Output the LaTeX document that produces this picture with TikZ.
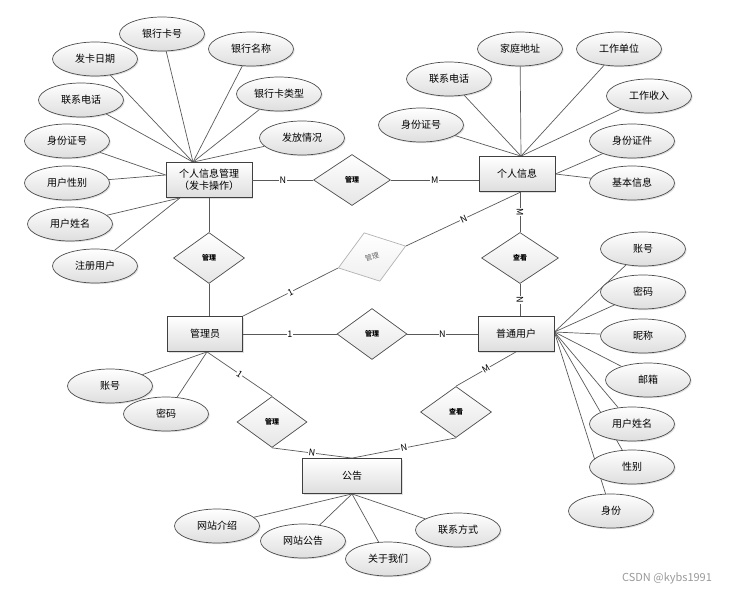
\documentclass[tikz,border=0pt]{standalone}
\usepackage{fontspec}
\setmainfont{Noto Sans CJK SC}
\usetikzlibrary{shapes.geometric,shadows,backgrounds}

\tikzset{
  shd/.style={drop shadow={shadow xshift=1.2pt,shadow yshift=-1.2pt,opacity=0.25}},
  ent/.style={draw=black!75,line width=0.8pt,top color=white,bottom color=black!13,shd,
    minimum height=35pt,inner sep=2pt,align=center,font=\fontsize{10}{12}\selectfont},
  attr/.style={ellipse,draw=black!70,line width=0.7pt,top color=white,bottom color=black!13,shd,
    minimum width=85pt,minimum height=34pt,inner sep=0pt,font=\fontsize{10}{12}\selectfont},
  rel/.style={diamond,draw=black!70,line width=0.7pt,top color=white,bottom color=black!10,
    minimum width=73pt,minimum height=51pt,inner sep=0pt,font=\fontsize{7}{8}\selectfont\bfseries},
  conn/.style={draw=black!65,line width=0.7pt},
  card/.style={fill=white,inner sep=0.6pt,sloped,font=\fontsize{9}{10}\selectfont}
}

\begin{document}
\begin{tikzpicture}[x=1pt,y=-1pt]
\useasboundingbox (0,0) rectangle (733,591);

% entities
\node[ent,minimum width=86pt] (pim) at (209,180) {个人信息管理\\（发卡操作）};
\node[ent,minimum width=76pt] (grxx) at (517,174) {个人信息};
\node[ent,minimum width=75pt] (gly) at (205,334) {管理员};
\node[ent,minimum width=76pt] (ptyh) at (516,334) {普通用户};
\node[ent,minimum width=99pt] (gg) at (352,476) {公告};

% relations
\node[rel,minimum width=77pt] (gl1) at (352,180) {管理};
\node[rel,minimum width=71pt] (gl2) at (209,258) {管理};
\node[rel,minimum width=70pt] (gl3) at (372,334) {管理};
\node[rel,minimum width=70pt] (gl4) at (272,422) {管理};
\node[rel,minimum width=71pt,rotate=18,draw=black!30,top color=white,bottom color=black!6,
  text=black!60,font=\fontsize{7}{8}\selectfont] (gl5) at (372,257) {管理};
\node[rel,minimum width=77pt] (ck1) at (520,258) {查看};
\node[rel,minimum width=71pt] (ck2) at (456,412) {查看};

% attributes of pim
\node[attr] (yhkh) at (162,34) {银行卡号};
\node[attr] (fkrq) at (95,59) {发卡日期};
\node[attr] (yhmc) at (251,49) {银行名称};
\node[attr] (lxdh) at (81,100) {联系电话};
\node[attr] (yhklx) at (279,94) {银行卡类型};
\node[attr] (sfzh) at (67,141) {身份证号};
\node[attr] (ffqk) at (302,138) {发放情况};
\node[attr] (yhxb) at (67,183) {用户性别};
\node[attr] (yhxm) at (70,224) {用户姓名};
\node[attr] (zcyh) at (95,266) {注册用户};

% attributes of grxx
\node[attr] (lxdh2) at (449,79) {联系电话};
\node[attr] (jtdz) at (520,49) {家庭地址};
\node[attr] (gzdw) at (619,49) {工作单位};
\node[attr] (gzsr) at (649,96) {工作收入};
\node[attr] (sfzh2) at (421,125) {身份证号};
\node[attr] (sfzj) at (632,141) {身份证件};
\node[attr] (jbxx) at (632,183) {基本信息};

% attributes of ptyh
\node[attr] (zh) at (643,249) {账号};
\node[attr] (mm) at (643,292) {密码};
\node[attr] (nc) at (643,336) {昵称};
\node[attr] (yx) at (648,380) {邮箱};
\node[attr] (yhxm2) at (632,424) {用户姓名};
\node[attr] (xb) at (632,467) {性别};
\node[attr] (sf) at (611,511) {身份};

% attributes of gly and gg
\node[attr] (zh2) at (110,386) {账号};
\node[attr] (mm2) at (166,414) {密码};
\node[attr] (wzjs) at (217,526) {网站介绍};
\node[attr] (wzgg) at (303,541) {网站公告};
\node[attr] (gywm) at (388,559) {关于我们};
\node[attr] (lxfs) at (458,530) {联系方式};

\node[text=black!40,font=\fontsize{11}{12}\selectfont] (wm) at (667,578) {CSDN @kybs1991};

\begin{scope}[on background layer]
% attribute lines
\foreach \a in {yhkh,fkrq,yhmc,lxdh,yhklx,ffqk}
  \draw[conn] (\a) -- ([xshift=-16pt]pim.north);
\foreach \a in {sfzh,yhxb}
  \draw[conn] (\a) -- ([yshift=5pt]pim.west);
\foreach \a in {yhxm,zcyh}
  \draw[conn] (\a) -- ([xshift=-29pt]pim.south);
\foreach \a in {lxdh2,jtdz,gzdw,gzsr,sfzh2}
  \draw[conn] (\a) -- ([xshift=4pt]grxx.north);
\foreach \a in {sfzj,jbxx}
  \draw[conn] (\a) -- (grxx.east);
\foreach \a in {zh,mm,nc,yx,yhxm2,xb,sf}
  \draw[conn] (\a) -- ([yshift=2pt]ptyh.east);
\foreach \a in {zh2,mm2}
  \draw[conn] (\a) -- ([xshift=2pt]gly.south);
\foreach \a in {wzjs,wzgg,gywm,lxfs}
  \draw[conn] (\a) -- (gg.south);
\end{scope}

% relation lines
\draw[conn] (pim) -- node[card]{N} (gl1);
\draw[conn] (gl1.east) -- node[card]{M} (gl1.east -| grxx.west);
\draw[conn] (pim.south -| gl2.north) -- (gl2.north);
\draw[conn] (gl2.south) -- (gl2.south |- gly.north);
\draw[conn] (gly) -- node[card]{1} (gl3);
\draw[conn] (gl3) -- node[card]{N} (ptyh);
\draw[conn] (gly.north east) -- node[card]{1} (gl5.west);
\draw[conn] (gl5.east) -- node[card]{N} ([xshift=4pt]grxx.south);
\draw[conn] (ck1.north |- grxx.south) -- node[card]{M} (ck1.north);
\draw[conn] (ck1.south) -- node[card]{N} (ck1.south |- ptyh.north);
\draw[conn] ([xshift=2pt]gly.south) -- node[card]{1} (gl4.north);
\draw[conn] (gl4.south) -- node[card]{N} (gg.north);
\draw[conn] (ptyh.south) -- node[card]{M} (ck2.north);
\draw[conn] (ck2.south) -- node[card]{N} (gg.north);
\end{tikzpicture}
\end{document}
